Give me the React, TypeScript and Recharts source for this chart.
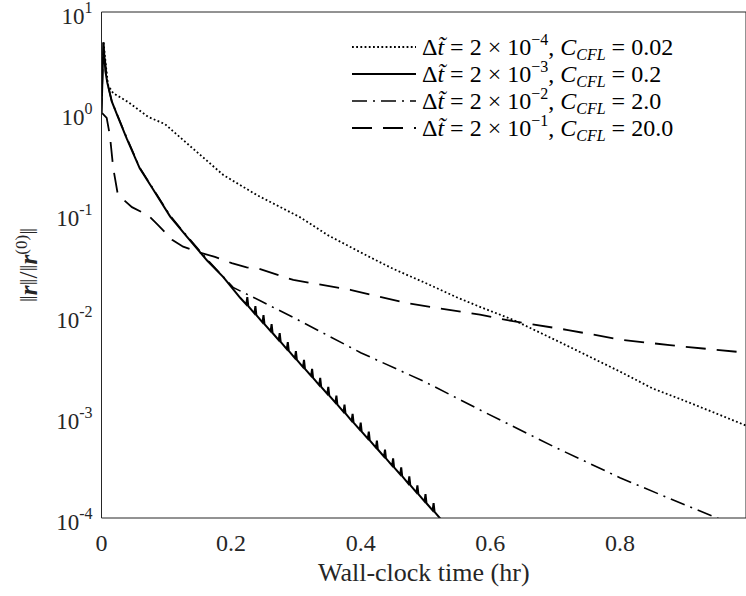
import React from 'react';
import { LineChart, Line, XAxis, YAxis, Legend, Label } from 'recharts';

const SERIF = '"Liberation Serif", "Times New Roman", Tinos, "DejaVu Serif", "Noto Serif", serif';
const INK = '#262626';

const X_MAX = 0.9946;
const xTicks = [0, 0.2, 0.4, 0.6, 0.8];
const yTicks = [1e-4, 1e-3, 1e-2, 1e-1, 1, 10];
const yMinor = [-4, -3, -2, -1, 0].flatMap((k) => [2, 3, 4, 5, 6, 7, 8, 9].map((m) => m * Math.pow(10, k)));

// dt = 2e-4, CFL 0.02 (dotted)
const dottedT = [0.003, 0.01, 0.018, 0.041, 0.072, 0.098, 0.134, 0.188, 0.24, 0.306, 0.35, 0.41, 0.45, 0.5, 0.55, 0.584, 0.635, 0.709, 0.8, 0.851, 0.9, 0.95, 0.9946];
const dottedR = [5.0, 1.9, 1.58, 1.29, 0.92, 0.78, 0.49, 0.245, 0.155, 0.094, 0.062, 0.039, 0.029, 0.021, 0.015, 0.0122, 0.0091, 0.0054, 0.0028, 0.0019, 0.00144, 0.00107, 0.00082];

// dt = 2e-3, CFL 0.2 (solid, noisy)
const solidT = [0, 0.003, 0.006, 0.009, 0.016, 0.025, 0.039, 0.059, 0.08, 0.106, 0.132, 0.163, 0.188, 0.214,
  0.2235, 0.225, 0.2265, 0.236, 0.2375, 0.239, 0.2485, 0.25, 0.2515, 0.261, 0.2625, 0.264,
  0.2735, 0.275, 0.2765, 0.286, 0.2875, 0.289, 0.2985, 0.3, 0.3015, 0.311, 0.3125, 0.314,
  0.3235, 0.325, 0.3265, 0.336, 0.3375, 0.339, 0.3485, 0.35, 0.3515, 0.361, 0.3625, 0.364,
  0.3735, 0.375, 0.3765, 0.386, 0.3875, 0.389, 0.3985, 0.4, 0.4015, 0.411, 0.4125, 0.414,
  0.4235, 0.425, 0.4265, 0.436, 0.4375, 0.439, 0.4485, 0.45, 0.4515, 0.461, 0.4625, 0.464,
  0.4735, 0.475, 0.4765, 0.486, 0.4875, 0.489, 0.4985, 0.5, 0.5015, 0.511, 0.5125, 0.514,
  0.525, 0.535];
const solidR = [1.0, 5.0, 2.6, 2.0, 1.3, 0.93, 0.56, 0.285, 0.175, 0.095, 0.06, 0.035, 0.024, 0.015,
  0.0129, 0.0152, 0.0124, 0.0105, 0.0124, 0.0101, 0.00858, 0.0101, 0.00824, 0.007, 0.00824, 0.00673,
  0.00571, 0.00672, 0.00549, 0.00466, 0.00548, 0.00448, 0.00379, 0.00446, 0.00365, 0.0031, 0.00365, 0.00298,
  0.00253, 0.00298, 0.00243, 0.00206, 0.00242, 0.00198, 0.00168, 0.00198, 0.00162, 0.00138, 0.00162, 0.00132,
  0.00112, 0.00132, 0.00108, 0.000913, 0.00107, 0.000877, 0.000745, 0.000876, 0.000715, 0.000608, 0.000715, 0.000584,
  0.000495, 0.000582, 0.000475, 0.000404, 0.000475, 0.000388, 0.000329, 0.000388, 0.000317, 0.000269, 0.000317, 0.000259,
  0.000219, 0.000258, 0.000211, 0.000179, 0.00021, 0.000172, 0.000146, 0.000172, 0.00014, 0.000119, 0.00014, 0.000115,
  0.000095, 0.000081];

// dt = 2e-2, CFL 2.0 (dash-dot)
const dashDotT = [0, 0.003, 0.009, 0.016, 0.039, 0.059, 0.08, 0.106, 0.132, 0.163, 0.203, 0.245, 0.3, 0.4, 0.5, 0.584, 0.7, 0.8, 0.9, 0.95, 0.97];
const dashDotR = [1.0, 5.0, 2.0, 1.3, 0.57, 0.29, 0.178, 0.097, 0.061, 0.036, 0.019, 0.014, 0.0093, 0.0043, 0.0022, 0.00117, 0.0005, 0.00025, 0.000135, 0.0001, 0.00009];

// dt = 2e-1, CFL 20.0 (dashed)
const dashedT = [0.001, 0.008, 0.013, 0.018, 0.025, 0.031, 0.047, 0.072, 0.087, 0.109, 0.126, 0.152, 0.175, 0.201, 0.224, 0.243, 0.296, 0.384, 0.471, 0.584, 0.635, 0.72, 0.8, 0.877, 0.9946];
const dashedR = [1.0, 0.9, 0.6, 0.29, 0.16, 0.145, 0.118, 0.098, 0.079, 0.056, 0.048, 0.042, 0.038, 0.033, 0.03, 0.029, 0.0225, 0.018, 0.0133, 0.0102, 0.0088, 0.0072, 0.0058, 0.0051, 0.0043];

const toPoints = (t: number[], r: number[]) => t.map((v, i) => ({ t: v, r: r[i] }));

const SERIES = [
  { name: 'dt4', dtExp: '\u22124', cfl: '0.02', data: toPoints(dottedT, dottedR), dash: '1.8 2.4', width: 1.8 },
  { name: 'dt3', dtExp: '\u22123', cfl: '0.2', data: toPoints(solidT, solidR), dash: undefined, width: 2 },
  { name: 'dt2', dtExp: '\u22122', cfl: '2.0', data: toPoints(dashDotT, dashDotR), dash: '15 6 2 6', width: 1.6 },
  { name: 'dt1', dtExp: '\u22121', cfl: '20.0', data: toPoints(dashedT, dashedR), dash: '20 11', width: 1.8 },
];

const XTick = ({ x, y, payload }: any) => (
  <text x={x} y={y + 33} textAnchor="middle" fontFamily={SERIF} fontSize={24} fill={INK}>
    {String(payload.value)}
  </text>
);

const YTick = ({ x, y, payload }: any) => {
  const exp = String(Math.round(Math.log10(payload.value)));
  return (
    <text x={x - 9} y={y + 12} textAnchor="end" fontFamily={SERIF} fontSize={23} fill={INK}>
      <tspan>10</tspan>
      <tspan dy={-11} fontSize={16}>{exp}</tspan>
    </text>
  );
};

const XTitle = ({ viewBox }: any) => (
  <text x={viewBox.x + viewBox.width / 2} y={viewBox.y + 63} textAnchor="middle" fontFamily={SERIF} fontSize={26} fill={INK}>
    Wall-clock time (hr)
  </text>
);

const YTitle = ({ viewBox }: any) => {
  const cx = 37;
  const cy = viewBox.y + viewBox.height / 2;
  return (
    <text x={cx} y={cy} transform={`rotate(-90, ${cx}, ${cy})`} textAnchor="middle" fontFamily={SERIF} fontSize={25} fill={INK}>
      <tspan>{'\u2016'}</tspan>
      <tspan fontWeight="bold" fontStyle="italic">r</tspan>
      <tspan>{'\u2016/\u2016'}</tspan>
      <tspan fontWeight="bold" fontStyle="italic">r</tspan>
      <tspan dy={-10} fontSize={17}>(0)</tspan>
      <tspan dy={10}>{'\u2016'}</tspan>
    </text>
  );
};

const renderLegend = ({ payload }: any) => {
  const shown = new Set((payload || []).map((p: any) => p.value));
  return (
    <div style={{ fontFamily: SERIF, color: '#000' }}>
      {SERIES.filter((s) => shown.has(s.name)).map((s) => (
        <div key={s.name} style={{ display: 'flex', alignItems: 'center', height: 27 }}>
          <svg width={68} height={12}>
            <line x1={2} x2={66} y1={6} y2={6} stroke="#000" strokeWidth={s.width} strokeDasharray={s.dash} />
          </svg>
          <span style={{ marginLeft: 4, fontSize: 24, lineHeight: 1, whiteSpace: 'nowrap' }}>
            {'\u0394'}<i>{'t\u0303'}</i> = 2 {'\u00d7'} 10
            <span style={{ fontSize: 16, position: 'relative', top: -10 }}>{s.dtExp}</span>, <i>C</i>
            <span style={{ fontSize: 16, position: 'relative', top: 5, fontStyle: 'italic' }}>CFL</span> = {s.cfl}
          </span>
        </div>
      ))}
    </div>
  );
};

const axisLine = { stroke: INK, strokeWidth: 1 };
const tickLine = { stroke: INK, strokeWidth: 1 };

export default function App() {
  return (
    <div style={{ position: 'absolute', left: 0, top: 0, background: '#fff' }}>
      <LineChart width={746} height={596} margin={{ top: 12, right: 0, bottom: 22, left: 21.5 }}>
        <XAxis xAxisId="x" type="number" dataKey="t" domain={[0, X_MAX]} allowDataOverflow ticks={xTicks}
          height={56} tick={<XTick />} tickLine={false} tickSize={0} tickMargin={0} axisLine={axisLine}>
          <Label content={<XTitle />} />
        </XAxis>
        <XAxis xAxisId="xb" type="number" domain={[0, X_MAX]} allowDataOverflow ticks={xTicks} orientation="bottom"
          mirror tick={false} tickSize={7} tickLine={tickLine} axisLine={false} />
        <XAxis xAxisId="xt" type="number" domain={[0, X_MAX]} allowDataOverflow ticks={xTicks} orientation="top"
          mirror tick={false} tickSize={7} tickLine={tickLine} axisLine={axisLine} />
        <YAxis yAxisId="y" type="number" scale="log" domain={[1e-4, 10]} allowDataOverflow ticks={yTicks}
          width={80} tick={<YTick />} tickLine={false} tickSize={0} tickMargin={0} axisLine={axisLine}>
          <Label content={<YTitle />} />
        </YAxis>
        <YAxis yAxisId="yl" type="number" scale="log" domain={[1e-4, 10]} allowDataOverflow ticks={yTicks}
          mirror tick={false} tickSize={7} tickLine={tickLine} axisLine={false} />
        <YAxis yAxisId="ylm" type="number" scale="log" domain={[1e-4, 10]} allowDataOverflow ticks={yMinor}
          mirror tick={false} tickSize={4} tickLine={tickLine} axisLine={false} />
        <YAxis yAxisId="yr" orientation="right" type="number" scale="log" domain={[1e-4, 10]} allowDataOverflow ticks={yTicks}
          mirror tick={false} tickSize={7} tickLine={tickLine} axisLine={axisLine} />
        <YAxis yAxisId="yrm" orientation="right" type="number" scale="log" domain={[1e-4, 10]} allowDataOverflow ticks={yMinor}
          mirror tick={false} tickSize={4} tickLine={tickLine} axisLine={false} />
        <Legend layout="vertical" align="center" verticalAlign="middle" content={renderLegend}
          wrapperStyle={{ top: 33.5, left: 350, width: 396 }} />
        {SERIES.map((s) => (
          <Line key={s.name} name={s.name} xAxisId="x" yAxisId="y" data={s.data} dataKey="r" type="linear"
            stroke="#000" strokeWidth={s.width} strokeDasharray={s.dash} dot={false} activeDot={false}
            isAnimationActive={false} />
        ))}
      </LineChart>
    </div>
  );
}
